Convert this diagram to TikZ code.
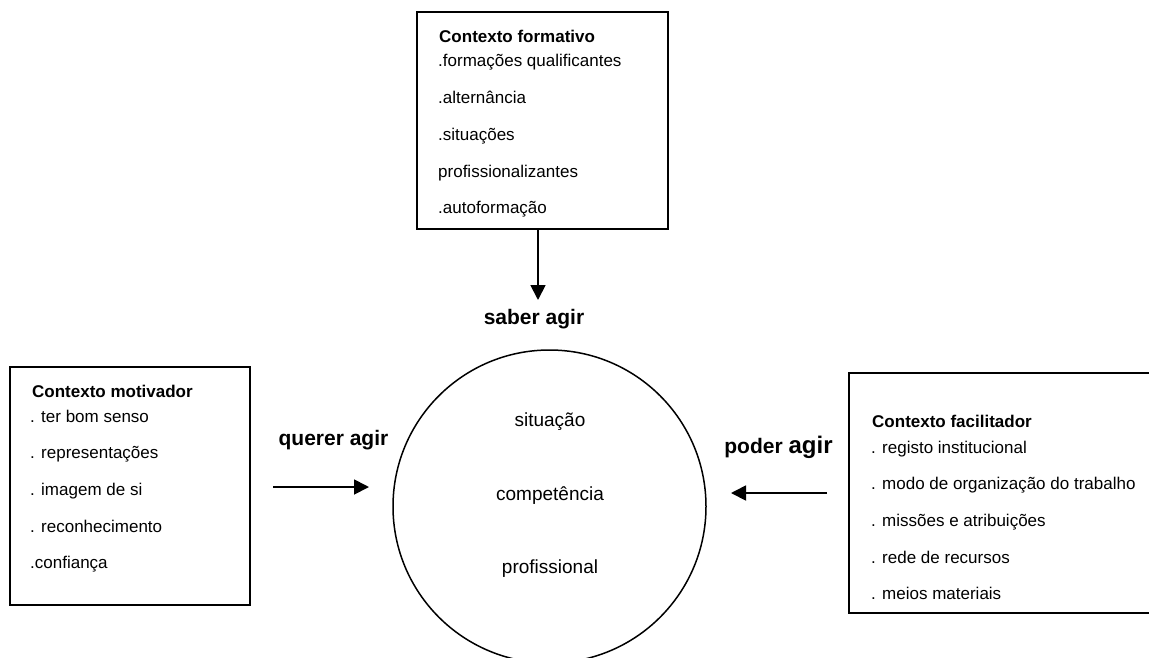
\documentclass[tikz,border=0pt]{standalone}
\usepackage{fontspec}
\setmainfont{Liberation Sans}
\usetikzlibrary{arrows.meta}
\begin{document}
\begin{tikzpicture}[x=1pt,y=-1pt,
  frame/.style={draw, line width=1.8pt, inner sep=0pt},
  head/.style={anchor=base west, inner sep=0pt, font=\fontsize{17}{20}\selectfont\bfseries},
  item/.style={anchor=base west, inner sep=0pt, font=\fontsize{17}{20}\selectfont},
  verb/.style={anchor=base, inner sep=0pt, font=\fontsize{21}{24}\selectfont\bfseries},
  core/.style={anchor=base, inner sep=0pt, font=\fontsize{19}{22}\selectfont},
  flow/.style={line width=1.8pt, -{Triangle[length=15pt,width=15pt]}}
]
\useasboundingbox (0,0) rectangle (1149,657);

% the three context boxes
\node[frame, minimum width=251pt, minimum height=217pt] (formbox) at (542.5,120.5) {};
\node[frame, minimum width=240pt, minimum height=238pt] (motbox) at (130,486) {};
\node[frame, minimum width=311pt, minimum height=240pt] (facbox) at (1004.5,493) {};

% central circle
\node[draw, circle, line width=1.5pt, minimum size=313pt, inner sep=0pt] (comp) at (549.5,506.5) {};
\node[core] (c1) at (550,426) {situação};
\node[core] (c2) at (550,500) {competência};
\node[core] (c3) at (550,573) {profissional};

% formative context
\node[head] (fh) at (439,42) {Contexto formativo};
\foreach \t/\y [count=\i] in {.formações qualificantes/66, .alternância/103,
    .situações/140, profissionalizantes/177, .autoformação/213}
  \node[item] (f\i) at (438,\y) {\t};

% motivating context
\node[head] (mh) at (32,397) {Contexto motivador};
\foreach \t/\y [count=\i] in {. ter bom senso/422, . representações/458,
    . imagem de si/495, . reconhecimento/532, .confiança/568}
  \node[item] (m\i) at (30,\y) {\t};

% facilitating context
\node[head] (ah) at (872,427) {Contexto facilitador};
\foreach \t/\y [count=\i] in {. registo institucional/453,
    . modo de organização do trabalho/489, . missões e atribuições/526,
    . rede de recursos/563, . meios materiais/599}
  \node[item] (a\i) at (871,\y) {\t};

% action labels
\node[verb] (saber) at (534,324) {saber agir};
\node[verb] (querer) at (333.5,445) {querer agir};
\node[verb] (poder) at (778.5,453) {poder {\fontsize{24}{26}\selectfont agir}};

% arrows
\coordinate (stip) at (538,300);
\coordinate (qtail) at (273,487);
\coordinate (qtip) at (369,487);
\coordinate (ptail) at (827,493);
\coordinate (ptip) at (731,493);
\draw[flow] (formbox.south -| stip) -- (stip);
\draw[flow] (qtail) -- (qtip);
\draw[flow] (ptail) -- (ptip);
\end{tikzpicture}
\end{document}
